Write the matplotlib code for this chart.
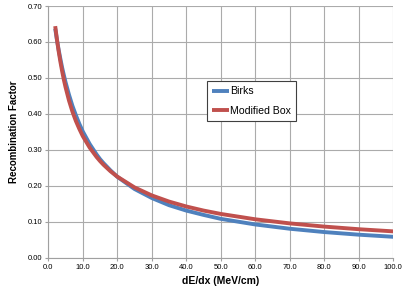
import matplotlib
matplotlib.use('Agg')
import matplotlib.pyplot as plt

plt.rcParams['font.family'] = ['Liberation Sans', 'DejaVu Sans']

# dE/dx values (MeV/cm)
dedx = [2, 2.5, 3, 3.5, 4, 4.5, 5, 6, 7, 8, 9, 10, 12, 14, 15, 16, 18, 20,
        25, 30, 35, 40, 45, 50, 60, 70, 80, 90, 100]

birks = [0.637, 0.606, 0.578, 0.553, 0.529, 0.508, 0.488, 0.453, 0.422,
         0.396, 0.372, 0.351, 0.316, 0.287, 0.274, 0.263, 0.243, 0.225,
         0.191, 0.166, 0.146, 0.131, 0.119, 0.108, 0.0924, 0.0805, 0.0713,
         0.064, 0.0581]

mod_box = [0.644, 0.607, 0.574, 0.545, 0.519, 0.495, 0.474, 0.437, 0.406,
           0.380, 0.358, 0.338, 0.306, 0.280, 0.2687, 0.2585, 0.2406, 0.2254,
           0.1954, 0.1732, 0.1561, 0.1424, 0.1311, 0.1217, 0.1068, 0.0954,
           0.0865, 0.0792, 0.0732]

xticks = [0, 10, 20, 30, 40, 50, 60, 70, 80, 90, 100]
yticks = [0.0, 0.1, 0.2, 0.3, 0.4, 0.5, 0.6, 0.7]

fig = plt.figure(figsize=(4.07, 2.93), dpi=100)
ax = fig.add_axes([0.1187, 0.1205, 0.8476, 0.859])

ax.plot(dedx, birks, color='#4F81BD', lw=2.8, label='Birks', solid_capstyle='butt')
ax.plot(dedx, mod_box, color='#C0504D', lw=2.8, label='Modified Box', solid_capstyle='butt')

ax.set_xlim(0, 100)
ax.set_ylim(0, 0.7)
ax.set_xticks(xticks)
ax.set_yticks(yticks)
ax.set_xticklabels(['%.1f' % v for v in xticks], fontsize=5.5)
ax.set_yticklabels(['%.2f' % v for v in yticks], fontsize=5.5)
ax.grid(True, color='#ababab', lw=0.8)
ax.set_axisbelow(True)
for s in ['top', 'right']:
    ax.spines[s].set_visible(False)
for s in ['left', 'bottom']:
    ax.spines[s].set_color('#a0a0a0')
    ax.spines[s].set_linewidth(0.8)
ax.tick_params(axis='both', length=2.5, width=0.8, color='#a0a0a0', pad=2)

ax.set_xlabel('dE/dx (MeV/cm)', fontsize=7.5, fontweight='bold', labelpad=4)
ax.set_ylabel('Recombination Factor', fontsize=7, fontweight='bold', labelpad=6)

leg = ax.legend(loc='upper left', bbox_to_anchor=(0.46, 0.702), fontsize=7.6,
                handlelength=1.6, handletextpad=0.1, borderpad=0.5,
                labelspacing=0.9, fancybox=False, framealpha=1,
                borderaxespad=0)
leg.get_frame().set_edgecolor('#404040')
leg.get_frame().set_linewidth(0.8)

fig.savefig('out.png', dpi=100)
